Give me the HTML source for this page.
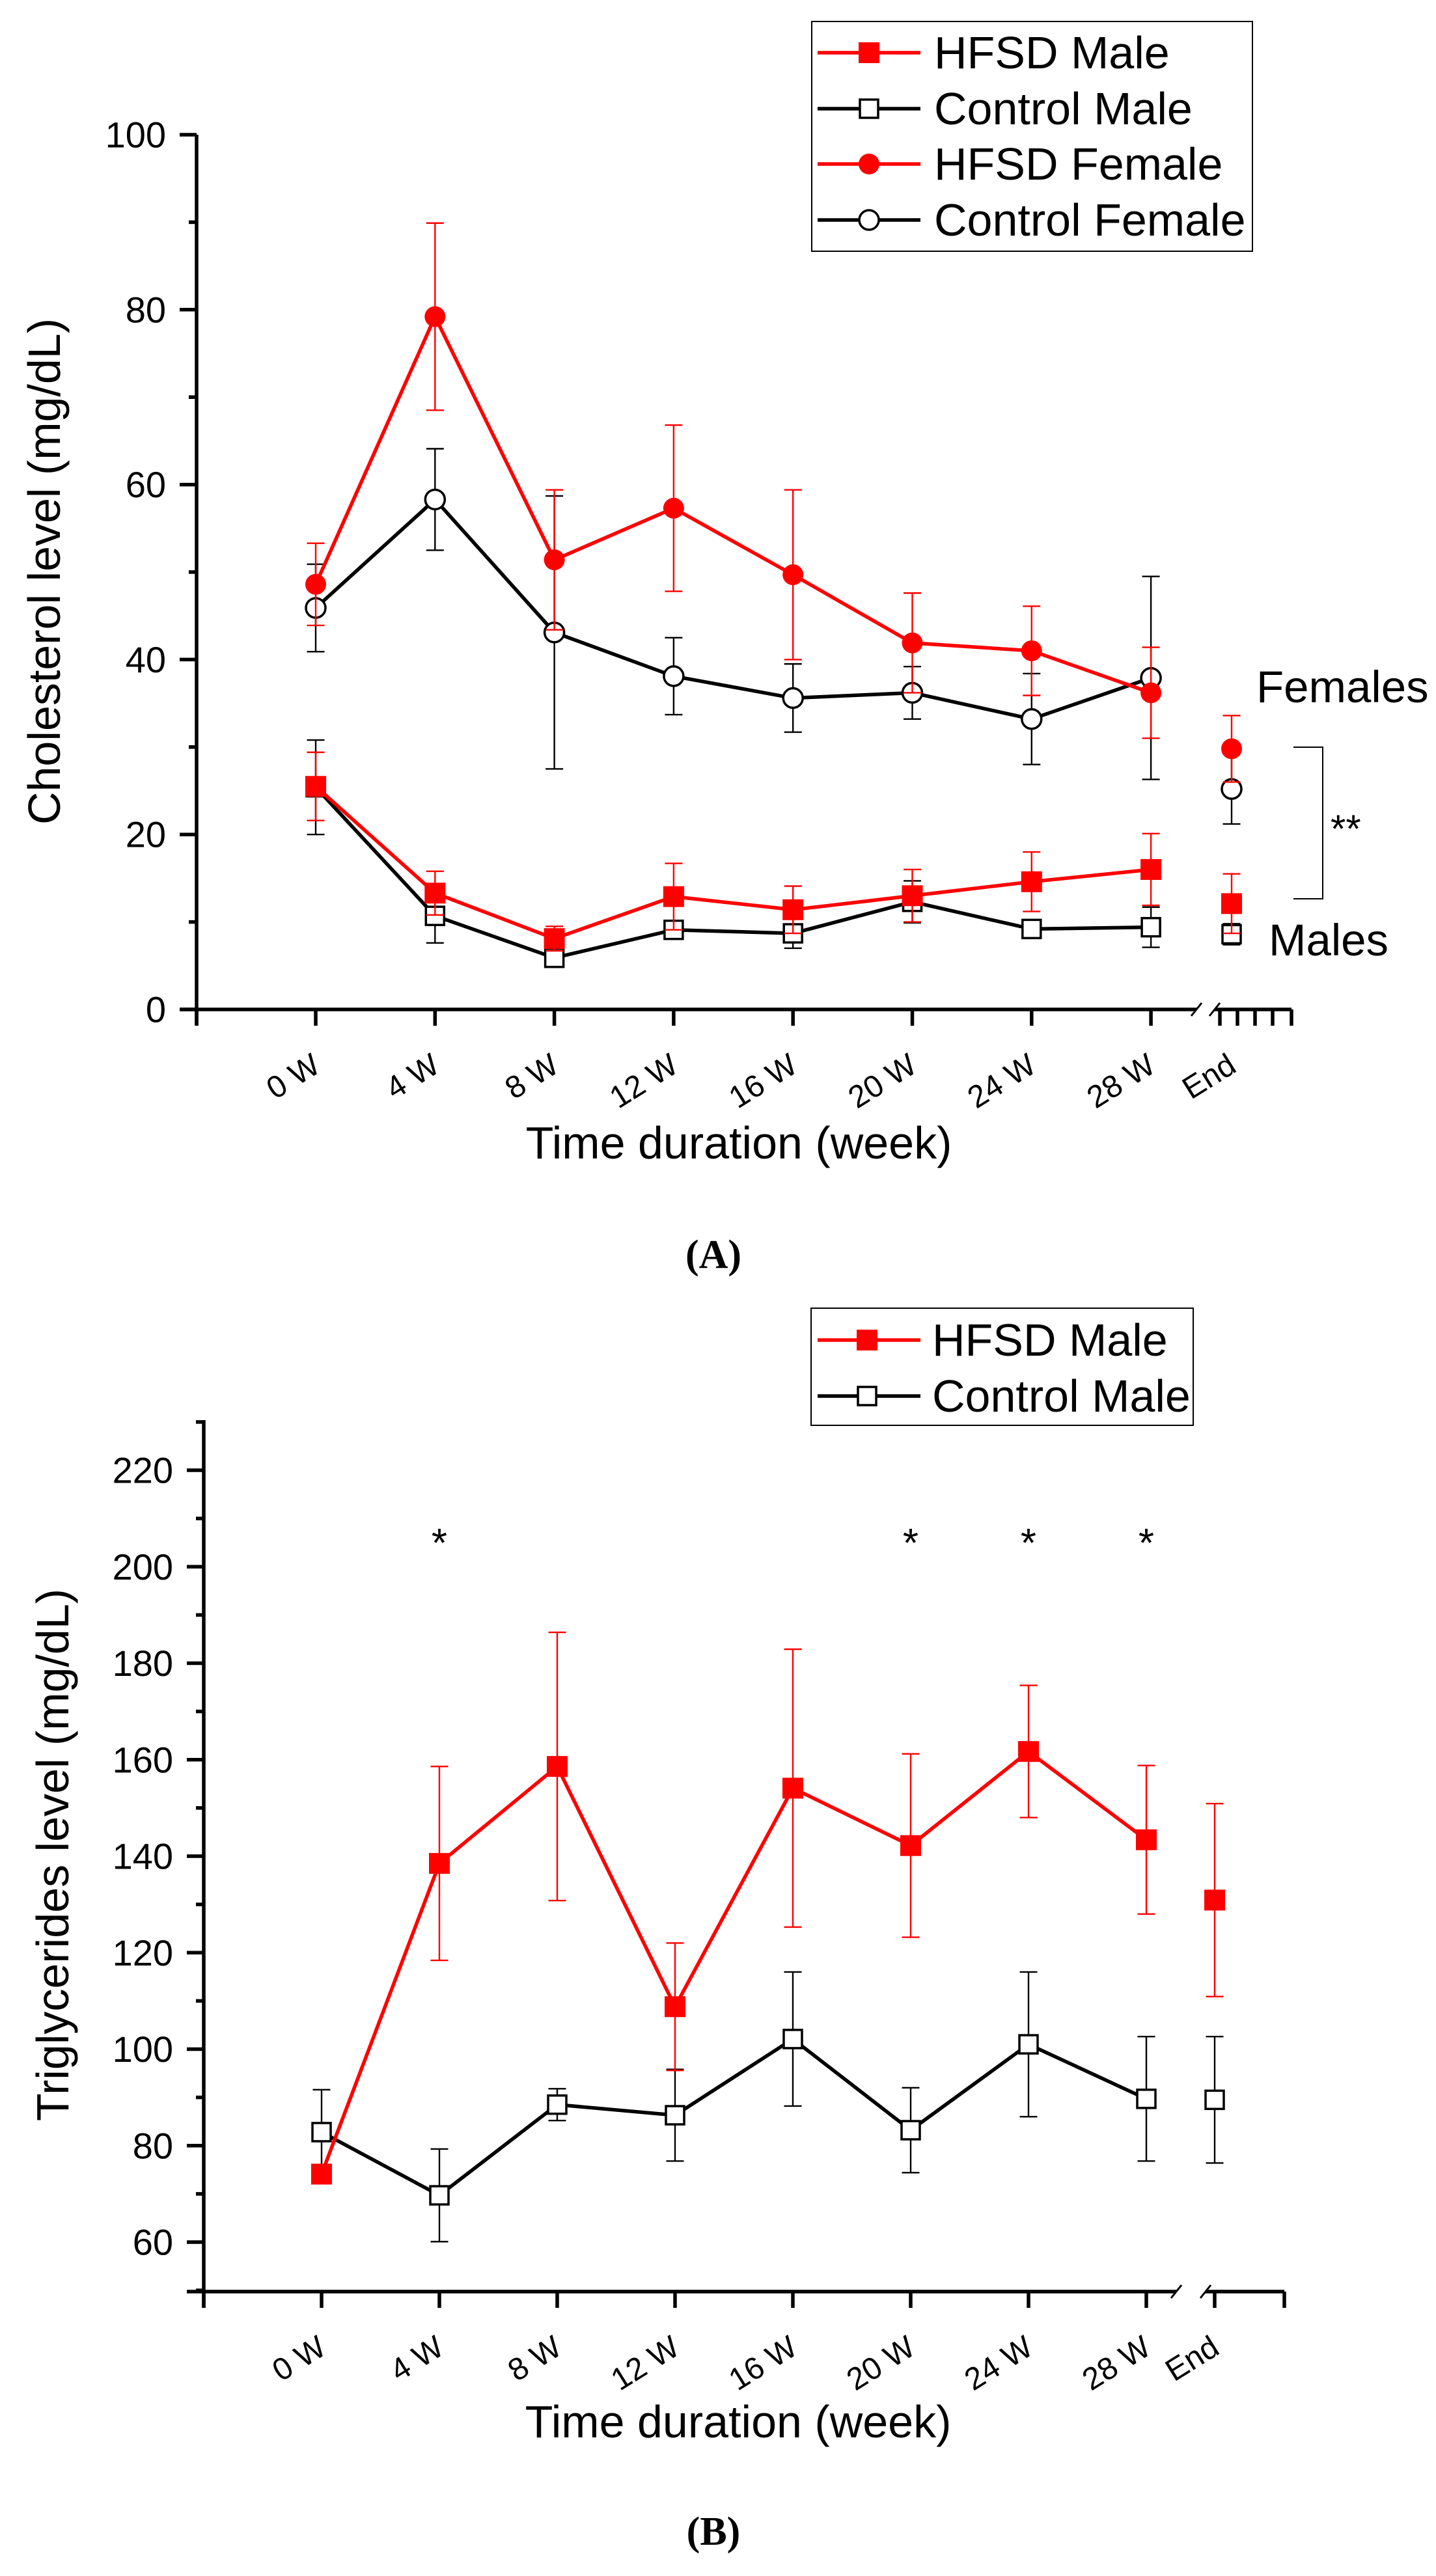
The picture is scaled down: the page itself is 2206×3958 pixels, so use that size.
<!DOCTYPE html>
<html><head><meta charset="utf-8"><style>
html,body{margin:0;padding:0;background:#fff;}
svg{display:block;font-family:"Liberation Sans",Arial,sans-serif;}
</style></head><body>
<svg id="fig" width="2206" height="3958" viewBox="0 0 2206 3958" xmlns="http://www.w3.org/2000/svg">
<rect x="0" y="0" width="2206" height="3958" fill="#fff"/>
<g>
  <text x="68" y="878" font-size="70" text-anchor="middle" dominant-baseline="central" transform="rotate(-90 68 878)">Cholesterol level (mg/dL)</text>
  <text x="1135" y="1780" font-size="70" text-anchor="middle">Time duration (week)</text>
  <text x="1096" y="1948" font-size="62" font-weight="bold" text-anchor="middle" font-family="Liberation Serif, serif">(A)</text>
  <text x="1930" y="1079" font-size="69">Females</text>
  <text x="1949" y="1468" font-size="69">Males</text>
  <path d="M1987 1148 H2032 V1381 H1987" fill="none" stroke="#000" stroke-width="2"/>
  <text x="2044" y="1294" font-size="60">**</text>
  <g>
    <rect x="1247" y="33" width="677" height="353" fill="#fff" stroke="#000" stroke-width="2"/>
  </g>
</g>
<g>
  <text x="81" y="2850" font-size="70" text-anchor="middle" dominant-baseline="central" transform="rotate(-90 81 2850)">Triglycerides level (mg/dL)</text>
  <text x="1134" y="3745" font-size="70" text-anchor="middle">Time duration (week)</text>
  <text x="1096" y="3910" font-size="62" font-weight="bold" text-anchor="middle" font-family="Liberation Serif, serif">(B)</text>
  <g>
    <rect x="1246" y="2010" width="587" height="180" fill="#fff" stroke="#000" stroke-width="2"/>
  </g>
</g>
</svg>
<script>
// ---------- DATA: Panel A (cholesterol) ----------
const catsA = ["0 W","4 W","8 W","12 W","16 W","20 W","24 W","28 W","End"];
const yTicksA = [0,20,40,60,80,100];
const hfsdFemaleA = [48.6,79.2,51.4,57.3,49.7,41.9,41.0,36.2,29.8];
const hfsdFemaleErrA = [4.7,10.7,8.0,9.5,9.7,5.7,5.1,5.2,3.8];
const ctrlFemaleA = [45.9,58.3,43.1,38.1,35.6,36.2,33.2,37.9,25.2];
const ctrlFemaleErrA = [5.0,5.8,15.6,4.4,3.9,3.0,5.2,11.6,4.0];
const hfsdMaleA = [25.5,13.3,8.1,12.9,11.4,13.0,14.6,16.0,12.1];
const hfsdMaleErrA = [3.9,2.5,1.4,3.8,2.7,3.0,3.4,4.1,3.4];
const ctrlMaleA = [25.4,10.7,5.9,9.1,8.7,12.3,9.2,9.4,8.6];
const ctrlMaleErrA = [5.4,3.1,0.5,1.0,1.7,2.4,1.0,2.3,1.2];
// ---------- DATA: Panel B (triglycerides) ----------
const catsB = ["0 W","4 W","8 W","12 W","16 W","20 W","24 W","28 W","End"];
const yTicksB = [60,80,100,120,140,160,180,200,220];
const hfsdMaleB = [74.1,138.5,158.6,108.8,154.1,142.2,161.7,143.4,130.9];
const hfsdMaleErrB = [2.0,20.1,27.8,13.2,28.8,19.0,13.7,15.4,20.0];
const ctrlMaleB = [82.8,69.7,88.5,86.3,102.1,83.2,101.0,89.7,89.5];
const ctrlMaleErrB = [8.8,9.6,3.3,9.5,13.9,8.8,15.0,12.9,13.1];
const starCatsB = ["4 W","20 W","24 W","28 W"];

const NS = "http://www.w3.org/2000/svg";
const svg = document.getElementById("fig");
function el(tag, attrs, parent) {
  const e = document.createElementNS(NS, tag);
  for (const k in attrs) e.setAttribute(k, attrs[k]);
  (parent || svg).appendChild(e);
  return e;
}
const RED = "#ff0000";

const xA = i => (i < 8 ? 485 + i * 183.3 : 1892);
const yA = v => 1551 - v * 13.44;
const xB = i => (i < 8 ? 494 + i * 181 : 1866);
const yB = v => 3445 - (v - 60) * 7.4125;

function drawAxes(p) {
  const g = el("g", {});
  
  
  let ln = el("line", {x1: p.ax, y1: p.axTop, x2: p.ax, y2: p.axBot + 25, stroke: "#000", "stroke-width": 5.5}, g);
  
  
  ln = el("line", {x1: p.ax - 26, y1: p.axBot, x2: p.brk1, y2: p.axBot, stroke: "#000", "stroke-width": 5.5}, g);
  
  
  ln = el("line", {x1: p.brk2, y1: p.axBot, x2: p.axRight, y2: p.axBot, stroke: "#000", "stroke-width": 5.5}, g);
  
  
  [p.brk1, p.brk2].forEach(bx => {
    const s = el("line", {x1: bx - 8, y1: p.axBot + 10, x2: bx + 8, y2: p.axBot - 10, stroke: "#000", "stroke-width": 3}, g);
    
    
  });
  p.yTicks.forEach((v, k) => {
    const y = p.yf(v);
    const t = el("line", {x1: p.ax - 26, y1: y, x2: p.ax, y2: y, stroke: "#000", "stroke-width": 5.5}, g);
    
    
    const lb = el("text", {x: p.labRight, y: y, "font-size": 56, "text-anchor": "end", "dominant-baseline": "central"}, g);
    lb.textContent = v;
    
    
    const mv = v + p.minorStep;
    const my = p.yf(mv);
    if (my > p.axTop - 1) {
      const m = el("line", {x1: p.ax - 12, y1: my, x2: p.ax, y2: my, stroke: "#000", "stroke-width": 5.5}, g);
      
      
    }
  });
  p.extraMinor.forEach(mv => {
    const my = p.yf(mv);
    const m = el("line", {x1: p.ax - 12, y1: my, x2: p.ax, y2: my, stroke: "#000", "stroke-width": 5.5}, g);
    
    
  });
  const tickXs = [p.ax].concat(p.cats.slice(0, 8).map((c, i) => p.xf(i))).concat(p.extraXTicks);
  tickXs.forEach(tx => {
    const t = el("line", {x1: tx, y1: p.axBot, x2: tx, y2: p.axBot + 25, stroke: "#000", "stroke-width": 5.5}, g);
    
    
  });
  p.cats.forEach((c, i) => {
    const lx = p.xf(i) + 10, ly = p.axBot + 94;
    const lb = el("text", {x: lx, y: ly, "font-size": 48, "text-anchor": "end", transform: "rotate(-32 " + lx + " " + ly + ")"}, g);
    lb.textContent = c;
    
    
  });
}

function drawSeries(name, vals, errs, xf, yf, color, marker) {
  const g = el("g", {});
  
  
  vals.forEach((v, i) => {
    const x = xf(i), e = errs[i];
    const eb = el("path", {d: "M" + x + " " + yf(v + e) + " V" + yf(v - e) + " M" + (x - 13.5) + " " + yf(v + e) + " H" + (x + 13.5) + " M" + (x - 13.5) + " " + yf(v - e) + " H" + (x + 13.5), stroke: color, "stroke-width": 2.4, fill: "none"}, g);
    
    
  });
  const pts = vals.slice(0, 8).map((v, i) => xf(i) + "," + yf(v)).join(" ");
  const pl = el("polyline", {points: pts, fill: "none", stroke: color, "stroke-width": 5.5, "stroke-linejoin": "round"}, g);
  
  
  vals.forEach((v, i) => drawMarker(g, name, xf(i), yf(v), color, marker));
}
function drawMarker(g, name, x, y, color, marker) {
  let m;
  if (marker === "fsq") m = el("rect", {x: x - 16, y: y - 16, width: 32, height: 32, fill: color}, g);
  else if (marker === "osq") m = el("rect", {x: x - 14, y: y - 14, width: 28, height: 28, fill: "#fff", stroke: color, "stroke-width": 3.5}, g);
  else if (marker === "fci") m = el("circle", {cx: x, cy: y, r: 16, fill: color}, g);
  else m = el("circle", {cx: x, cy: y, r: 15, fill: "#fff", stroke: color, "stroke-width": 3.5}, g);
  
  
}
function legendEntry(label, y, color, marker, mx, tx) {
  const g = el("g", {});
  
  
  const l = el("line", {x1: 1256, y1: y, x2: 1414, y2: y, stroke: color, "stroke-width": 5.5}, g);
  
  
  drawMarker(g, 'legend', mx, y, color, marker);
  const t = el("text", {x: tx, y: y, "font-size": 70, "dominant-baseline": "central"}, g);
  t.textContent = label;
  
  
}

drawAxes({id: "a", ax: 302, axTop: 207, axBot: 1551, brk1: 1838, brk2: 1866, axRight: 1984,
  yTicks: yTicksA, minorStep: 10, extraMinor: [], yf: yA, xf: xA, cats: catsA, labRight: 255,
  extraXTicks: [1874, 1901, 1928, 1955, 1984]});
drawSeries("control-female", ctrlFemaleA, ctrlFemaleErrA, xA, yA, "#000", "oci");
drawSeries("hfsd-female", hfsdFemaleA, hfsdFemaleErrA, xA, yA, RED, "fci");
drawSeries("control-male", ctrlMaleA, ctrlMaleErrA, xA, yA, "#000", "osq");
drawSeries("hfsd-male", hfsdMaleA, hfsdMaleErrA, xA, yA, RED, "fsq");
legendEntry("HFSD Male", 81, RED, "fsq", 1335, 1435);
legendEntry("Control Male", 167, "#000", "osq", 1335, 1435);
legendEntry("HFSD Female", 252, RED, "fci", 1335, 1435);
legendEntry("Control Female", 338, "#000", "oci", 1335, 1435);

drawAxes({id: "b", ax: 313, axTop: 2182, axBot: 3521, brk1: 1807, brk2: 1852, axRight: 1973,
  yTicks: yTicksB, minorStep: 10, extraMinor: [50], yf: yB, xf: xB, cats: catsB, labRight: 266,
  extraXTicks: [1866, 1973]});
drawSeries("control-male-tg", ctrlMaleB, ctrlMaleErrB, xB, yB, "#000", "osq");
drawSeries("hfsd-male-tg", hfsdMaleB, hfsdMaleErrB, xB, yB, RED, "fsq");
legendEntry("HFSD Male", 2059, RED, "fsq", 1332, 1432);
legendEntry("Control Male", 2145, "#000", "osq", 1332, 1432);
starCatsB.forEach(c => {
  const i = catsB.indexOf(c);
  const s = el("text", {x: xB(i), y: 2392, "font-size": 62, "text-anchor": "middle"});
  s.textContent = "*";
  
  
});
</script>
</body></html>
